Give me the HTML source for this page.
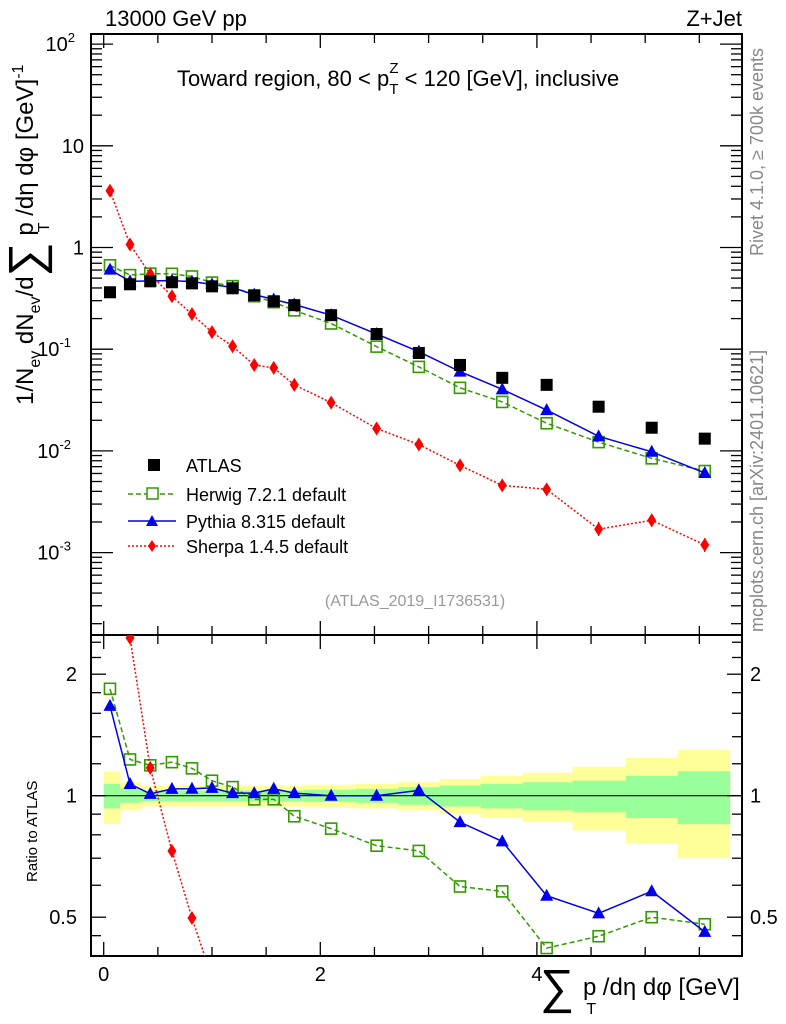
<!DOCTYPE html>
<html><head><meta charset="utf-8">
<style>
html,body{margin:0;padding:0;background:#fff;overflow:hidden;}
svg{display:block;font-family:"Liberation Sans",sans-serif;}
</style></head>
<body>
<svg id="chart" width="786" height="1024" viewBox="0 0 786 1024" xmlns="http://www.w3.org/2000/svg">
<g id="bands"></g>
<g id="grid"></g>
<g id="series"></g>
<text x="105" y="26" font-size="22">13000 GeV pp</text>
<text x="742" y="26" font-size="22" text-anchor="end">Z+Jet</text>
<text x="177" y="86" font-size="22">Toward region, 80 &lt; p<tspan font-size="15" dy="8">T</tspan><tspan font-size="15" dx="-9" dy="-21">Z</tspan><tspan dy="13"> &lt; 120 [GeV], inclusive</tspan></text>
<text x="415" y="606" font-size="16" fill="#999" text-anchor="middle">(ATLAS_2019_I1736531)</text>
<text transform="translate(763,256) rotate(-90)" font-size="18" fill="#888">Rivet 4.1.0, ≥ 700k events</text>
<text transform="translate(763,632) rotate(-90)" font-size="18" fill="#888">mcplots.cern.ch [arXiv:2401.10621]</text>
<text transform="translate(33,405) rotate(-90)" font-size="24">1/N<tspan font-size="16" dy="7">ev</tspan><tspan dy="-7"> dN</tspan><tspan font-size="16" dy="7">ev</tspan><tspan dy="-7">/d</tspan><tspan font-size="48" dy="9">∑</tspan><tspan dy="-9"> p</tspan><tspan font-size="16" dx="-10" dy="16">T</tspan><tspan dy="-16"> /dη dφ  [GeV]</tspan><tspan font-size="16" dy="-10">-1</tspan></text>
<text transform="translate(37,882) rotate(-90)" font-size="15">Ratio to ATLAS</text>
<text x="540" y="1003" font-size="48">∑</text>
<text x="583" y="995" font-size="24">p<tspan font-size="16" dx="-10" dy="19">T</tspan><tspan dy="-19"> /dη dφ [GeV]</tspan></text>
<g>
<rect x="148" y="459" width="12" height="12" fill="#000"/>
<text x="186" y="472" font-size="18">ATLAS</text>
<line x1="128" y1="494" x2="176" y2="494" stroke="#339900" stroke-width="1.5" stroke-dasharray="5,3"/>
<rect x="147" y="488" width="11" height="11" fill="#fff" stroke="#339900" stroke-width="1.5"/>
<text x="186" y="501" font-size="18">Herwig 7.2.1 default</text>
<line x1="128" y1="521" x2="176" y2="521" stroke="#0000ee" stroke-width="1.5"/>
<polygon points="152,515 158,526 146,526" fill="#0000ee"/>
<text x="186" y="528" font-size="18">Pythia 8.315 default</text>
<line x1="128" y1="546" x2="176" y2="546" stroke="#ff0000" stroke-width="1.5" stroke-dasharray="2,2"/>
<polygon points="152,540 156,546 152,552 148,546" fill="#ff0000"/>
<text x="186" y="553" font-size="18">Sherpa 1.4.5 default</text>
</g>
</svg>
<script>
const xCenters=[0.058,0.243,0.43,0.63,0.815,1.0,1.19,1.39,1.57,1.76,2.1,2.52,2.91,3.29,3.68,4.09,4.57,5.06,5.55];
const xEdges=[0,0.15,0.34,0.53,0.72,0.91,1.1,1.29,1.48,1.66,1.85,2.33,2.72,3.1,3.48,3.87,4.33,4.82,5.3,5.78];
const atlas=[0.363,0.435,0.465,0.455,0.444,0.415,0.397,0.339,0.296,0.271,0.216,0.141,0.0918,0.070,0.0523,0.0446,0.0272,0.0169,0.0132];
const herwig=[0.668,0.535,0.553,0.551,0.519,0.452,0.417,0.332,0.290,0.241,0.179,0.106,0.067,0.0417,0.0303,0.0187,0.0122,0.00845,0.00634];
const pythia=[0.606,0.465,0.470,0.473,0.462,0.434,0.403,0.344,0.308,0.275,0.216,0.141,0.0946,0.0602,0.0403,0.0252,0.0139,0.0098,0.00607];
const sherpa=[3.61,1.07,0.545,0.332,0.221,0.147,0.107,0.070,0.0655,0.0446,0.0298,0.0166,0.01157,0.0072,0.00458,0.00419,0.0017,0.00208,0.00119];
const sherpaErr=[0,0,0,0,0,0,0,0,0,0,0,0,0,0.0006,0.0006,0.0005,0.0003,0.0003,0.0002];
const yellowErr=[0.15,0.08,0.06,0.06,0.06,0.06,0.06,0.06,0.06,0.06,0.065,0.07,0.08,0.1,0.12,0.14,0.18,0.24,0.30];
const greenErr=[0.07,0.04,0.03,0.03,0.03,0.03,0.03,0.03,0.03,0.03,0.035,0.04,0.05,0.06,0.07,0.08,0.09,0.12,0.15];
const yTickVals=[0.001,0.01,0.1,1,10,100];
const yTickLabels=[["10","-3"],["10","-2"],["10","-1"],["1",""],["10",""],["10","2"]];
const rTickVals=[0.5,1,2];
const rTickLabels=["0.5","1","2"];
const xTickVals=[0,2,4];
const xTickLabels=["0","2","4"];

const NS="http://www.w3.org/2000/svg";
const L=91,R=742,T=34,MB=635,RB=956;
const sx=v=>103.7+v*108.3;
const sy=v=>247.5-Math.log10(v)*101.7;
const sr=v=>795.7-Math.log2(v)*121.5;
function el(tag,attrs,parent){const e=document.createElementNS(NS,tag);for(const k in attrs)e.setAttribute(k,attrs[k]);parent.appendChild(e);return e;}
const G=document.getElementById('grid'),B=document.getElementById('bands'),S=document.getElementById('series');

for(let i=0;i<xCenters.length;i++){
  const x0=sx(xEdges[i]),x1=sx(xEdges[i+1]);
  const y=el('rect',{x:x0,y:sr(1+yellowErr[i]),width:x1-x0+0.5,height:sr(1-yellowErr[i])-sr(1+yellowErr[i]),fill:'#ffff99'},B);
  
  
  const g=el('rect',{x:x0,y:sr(1+greenErr[i]),width:x1-x0+0.5,height:sr(1-greenErr[i])-sr(1+greenErr[i]),fill:'#99ff99'},B);
  
  
}
el('line',{x1:L,x2:R,y1:sr(1),y2:sr(1),stroke:'#000','stroke-width':1.2},B);

el('rect',{x:L,y:T,width:R-L,height:MB-T,fill:'none',stroke:'#000','stroke-width':2},G);
el('rect',{x:L,y:MB,width:R-L,height:RB-MB,fill:'none',stroke:'#000','stroke-width':2},G);

for(let v=0;v<=5.5;v+=0.5){
  const big=Math.abs(v%2)<1e-6, len=big?14:9, x=sx(v);
  [[T,1],[MB,-1],[MB,1],[RB,-1]].forEach(([y,d])=>el('line',{x1:x,x2:x,y1:y,y2:y+d*len,stroke:'#000','stroke-width':1.3},G));
}
xTickVals.forEach((v,i)=>{const t=el('text',{x:sx(v),y:981,'font-size':20,'text-anchor':'middle'},G);t.textContent=xTickLabels[i];

});

for(let d=-4;d<=2;d++){for(let m=1;m<10;m++){const v=m*Math.pow(10,d);const y=sy(v);if(y<T||y>MB)continue;const len=m==1?22:11;
el('line',{x1:L,x2:L+len,y1:y,y2:y,stroke:'#000','stroke-width':1.3},G);el('line',{x1:R,x2:R-len,y1:y,y2:y,stroke:'#000','stroke-width':1.3},G);}}
yTickVals.forEach((v,i)=>{const y=sy(v);const t=el('text',{x:84,y:y+7,'font-size':20,'text-anchor':'end'},G);


const lab=yTickLabels[i];
if(lab[1]){t.setAttribute('x',lab[1].length>1?71:75);t.textContent=lab[0];const s=el('tspan',{'font-size':13,dy:-9},t);s.textContent=lab[1];}else t.textContent=lab[0];});

[0.4,0.45,0.5,0.6,0.7,0.8,0.9,1,2].forEach(v=>{const y=sr(v);const len=(v==0.5||v==1||v==2)?15:10;
el('line',{x1:L,x2:L+len,y1:y,y2:y,stroke:'#000','stroke-width':1.3},G);el('line',{x1:R,x2:R-len,y1:y,y2:y,stroke:'#000','stroke-width':1.3},G);});
[1.2,1.4,1.6,1.8,2.2,2.4].forEach(v=>{const y=sr(v);el('line',{x1:L,x2:L+10,y1:y,y2:y,stroke:'#000','stroke-width':1.3},G);el('line',{x1:R,x2:R-10,y1:y,y2:y,stroke:'#000','stroke-width':1.3},G);});
rTickVals.forEach((v,i)=>{const y=sr(v)+7;
const a=el('text',{x:77,y:y,'font-size':20,'text-anchor':'end'},G);a.textContent=rTickLabels[i];


const b=el('text',{x:750,y:y,'font-size':20},G);b.textContent=rTickLabels[i];

});

const defs=el('defs',{},S);
const c1=el('clipPath',{id:'cm'},defs);el('rect',{x:L,y:T,width:R-L,height:MB-T},c1);
const c2=el('clipPath',{id:'cr'},defs);el('rect',{x:L,y:MB,width:R-L,height:RB-MB},c2);
const gm=el('g',{'clip-path':'url(#cm)'},S),gr=el('g',{'clip-path':'url(#cr)'},S);

function marker(g,type,x,y,name){
  let m;
  if(type=='sq') m=el('rect',{x:x-6,y:y-6,width:12,height:12,fill:'#000'},g);
  else if(type=='osq') m=el('rect',{x:x-5.5,y:y-5.5,width:11,height:11,fill:'none',stroke:'#339900','stroke-width':1.6},g);
  else if(type=='tri') m=el('polygon',{points:`${x},${y-7} ${x+6.5},${y+5} ${x-6.5},${y+5}`,fill:'#0000ee'},g);
  else m=el('polygon',{points:`${x},${y-7} ${x+4.5},${y} ${x},${y+7} ${x-4.5},${y}`,fill:'#ff0000'},g);
  
  
}
function series(g,vals,fy,color,dash,type,name){
  const pts=vals.map((v,i)=>sx(xCenters[i])+','+fy(v)).join(' ');
  const p=el('polyline',{points:pts,fill:'none',stroke:color,'stroke-width':1.5,'stroke-dasharray':dash},g);
  
  
  vals.forEach((v,i)=>marker(g,type,sx(xCenters[i]),fy(v),name+'-point'));
}
sherpa.forEach((v,i)=>{if(!sherpaErr[i])return;const x=sx(xCenters[i]);
const e=el('line',{x1:x,x2:x,y1:sy(v+sherpaErr[i]),y2:sy(v-sherpaErr[i]),stroke:'#ff0000','stroke-width':1.3,'stroke-dasharray':'2,2'},gm);

});
series(gm,herwig,sy,'#339900','5,3','osq','herwig');
series(gm,pythia,sy,'#0000ee','none','tri','pythia');
series(gm,sherpa,sy,'#ff0000','2,2','dia','sherpa');
atlas.forEach((v,i)=>marker(gm,'sq',sx(xCenters[i]),sy(v),'atlas-point'));
series(gr,herwig.map((v,i)=>v/atlas[i]),sr,'#339900','5,3','osq','herwig-ratio');
series(gr,pythia.map((v,i)=>v/atlas[i]),sr,'#0000ee','none','tri','pythia-ratio');
series(gr,sherpa.map((v,i)=>v/atlas[i]),sr,'#ff0000','2,2','dia','sherpa-ratio');
</script>
</body></html>
